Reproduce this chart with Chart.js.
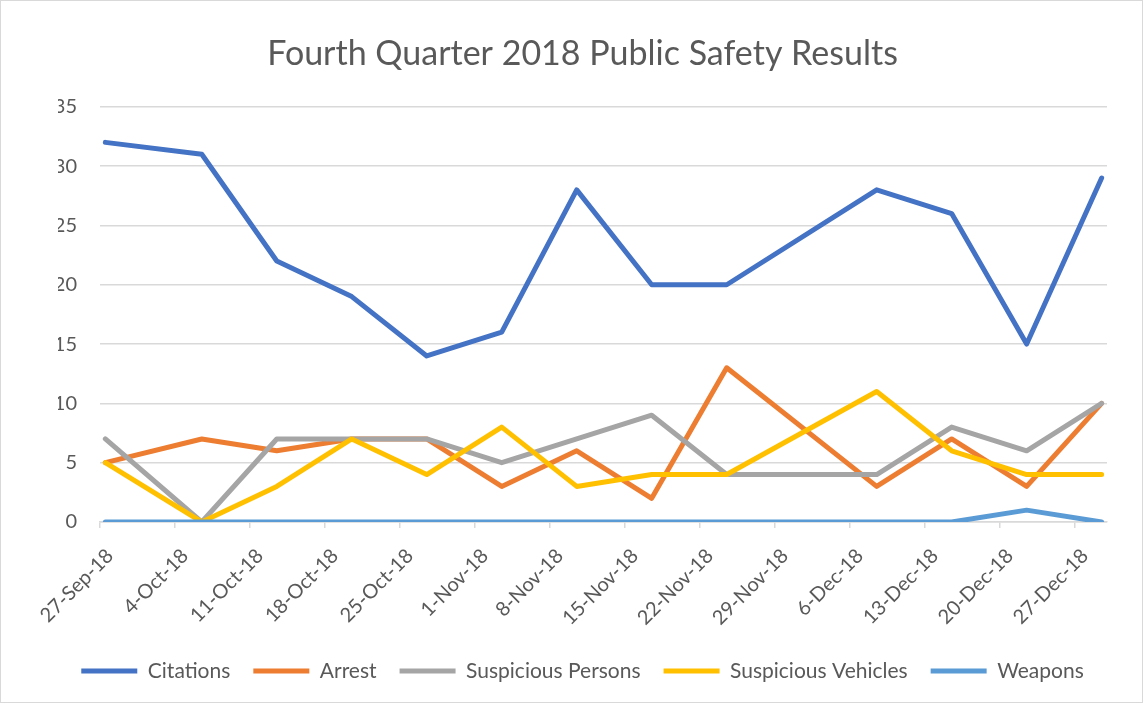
<!DOCTYPE html>
<html>
<head>
<meta charset="utf-8">
<title>Fourth Quarter 2018 Public Safety Results</title>
<script src="https://cdn.jsdelivr.net/npm/chart.js@4.4.1/dist/chart.umd.min.js"></script>
<style>
  html, body { margin: 0; padding: 0; background: #fff; }
  #wrap { width: 1143px; height: 703px; box-sizing: border-box; border: 1px solid #d9d9d9; }
  canvas { display: block; }
</style>
</head>
<body>
<div id="wrap"><canvas id="chart" width="1141" height="701"></canvas></div>
<script>
// weekly report dates (no report for 1-Dec)
const reportDates = ['2018-09-27', '2018-10-06', '2018-10-13', '2018-10-20', '2018-10-27',
  '2018-11-03', '2018-11-10', '2018-11-17', '2018-11-24', '2018-12-08',
  '2018-12-15', '2018-12-22', '2018-12-29'];

const citations          = [32, 31, 22, 19, 14, 16, 28, 20, 20, 28, 26, 15, 29];
const arrest             = [5, 7, 6, 7, 7, 3, 6, 2, 13, 3, 7, 3, 10];
const suspiciousPersons  = [7, 0, 7, 7, 7, 5, 7, 9, 4, 4, 8, 6, 10];
const suspiciousVehicles = [5, 0, 3, 7, 4, 8, 3, 4, 4, 11, 6, 4, 4];
const weapons            = [0, 0, 0, 0, 0, 0, 0, 0, 0, 0, 0, 1, 0];

const xTickLabels = ['27-Sep-18', '4-Oct-18', '11-Oct-18', '18-Oct-18', '25-Oct-18', '1-Nov-18',
  '8-Nov-18', '15-Nov-18', '22-Nov-18', '29-Nov-18', '6-Dec-18', '13-Dec-18', '20-Dec-18', '27-Dec-18'];

const seriesNames  = ['Citations', 'Arrest', 'Suspicious Persons', 'Suspicious Vehicles', 'Weapons'];
const seriesValues = [citations, arrest, suspiciousPersons, suspiciousVehicles, weapons];
const seriesColors = ['#4472C4', '#ED7D31', '#A5A5A5', '#FFC000', '#5B9BD5'];

// days since 27-Sep, each date sits in the middle of its day slot
const start = Date.UTC(2018, 8, 27);
function dayPos(s) {
  const [y, m, d] = s.split('-').map(Number);
  return (Date.UTC(y, m - 1, d) - start) / 864e5 + 0.5;
}

Chart.defaults.font.family = 'Lato, "Open Sans", sans-serif';
Chart.defaults.color = '#595959';

const datasets = seriesNames.map((name, i) => ({
  label: name,
  data: reportDates.map((d, j) => ({ x: dayPos(d), y: seriesValues[i][j] })),
  borderColor: seriesColors[i],
  backgroundColor: seriesColors[i],
  borderWidth: 5,
  borderCapStyle: 'round',
  borderJoinStyle: 'round',
  pointRadius: 0,
  tension: 0,
  order: seriesNames.length - i,  // later series drawn on top, like Excel
}));

new Chart(document.getElementById('chart'), {
  type: 'line',
  data: { datasets },
  options: {
    responsive: false,
    animation: false,
    layout: { padding: { left: 57, right: 35, top: 0, bottom: 10.5 } },
    plugins: {
      title: {
        display: true,
        text: 'Fourth Quarter 2018 Public Safety Results',
        font: { size: 34, weight: 'normal' },
        color: '#595959',
        padding: { top: 32.5, bottom: 32.5 },
      },
      legend: {
        position: 'bottom',
        labels: {
          font: { size: 21 },
          color: '#595959',
          boxWidth: 56,
          boxHeight: 5,
          padding: 23,
          sort: (a, b) => a.datasetIndex - b.datasetIndex,
          generateLabels: (chart) =>
            Chart.defaults.plugins.legend.labels.generateLabels(chart).map(l => ({ ...l, lineWidth: 0 })),
        },
      },
      tooltip: { enabled: false },
    },
    scales: {
      x: {
        type: 'linear',
        min: 0,
        max: 94,
        afterFit: (s) => { s.height = 115.5; },
        afterBuildTicks: (s) => { s.ticks = xTickLabels.map((_, i) => ({ value: i * 7 })); },
        ticks: {
          autoSkip: false,
          minRotation: 45,
          maxRotation: 45,
          padding: 16,
          labelOffset: 10,
          font: { size: 20 },
          color: '#595959',
          callback: (v) => xTickLabels[Math.round(v / 7)],
        },
        grid: { drawOnChartArea: false, drawTicks: true, tickLength: 6, color: '#d9d9d9', lineWidth: 1.5 },
        border: { color: '#d9d9d9', width: 1.5 },
      },
      y: {
        min: 0,
        max: 35,
        afterFit: (s) => { s.width = 42; },
        ticks: { stepSize: 5, padding: 23, font: { size: 20 }, color: '#595959' },
        grid: { color: '#d9d9d9', lineWidth: 1.5, drawTicks: false },
        border: { display: false },
      },
    },
  },
});
</script>
</body>
</html>
